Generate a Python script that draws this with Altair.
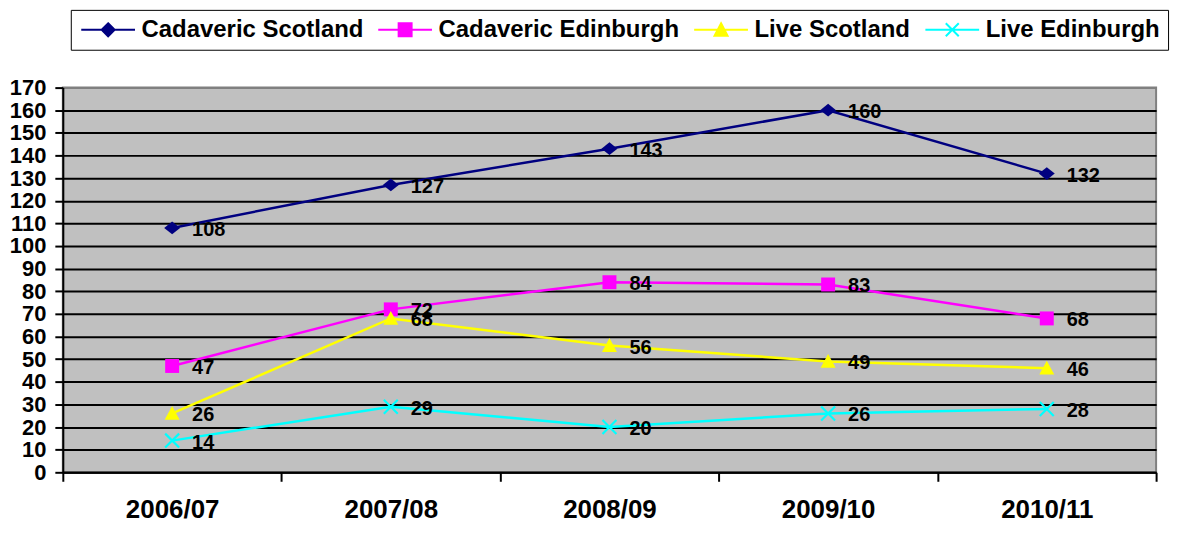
import altair as alt
import pandas as pd

periods = ["2006/07", "2007/08", "2008/09", "2009/10", "2010/11"]
series_names = ["Cadaveric Scotland", "Cadaveric Edinburgh", "Live Scotland", "Live Edinburgh"]
cadaveric_scotland = [108, 127, 143, 160, 132]
cadaveric_edinburgh = [47, 72, 84, 83, 68]
live_scotland = [26, 68, 56, 49, 46]
live_edinburgh = [14, 29, 20, 26, 28]
series_colors = ["#000080", "#FF00FF", "#FFFF00", "#00FFFF"]
y_ticks = list(range(0, 171, 10))

rows = []
for name, vals in zip(series_names, [cadaveric_scotland, cadaveric_edinburgh, live_scotland, live_edinburgh]):
    for p, v in zip(periods, vals):
        rows.append({"period": p, "series": name, "value": v})
df = pd.DataFrame(rows)

FONT = "Liberation Sans"

markers = [
    ("M0,-0.8L1,0L0,0.8L-1,0Z", True, 256),
    ("square", True, 196),
    ("M0,-1L1,0.85L-1,0.85Z", True, 225),
    ("M-1,-1L1,1M-1,1L1,-1", False, 196),
]
legend_paths = [
    "M-1,0L7.3,0M3.15,-1L4.15,0L3.15,1L2.15,0Z",
    "M-1,0L7.3,0M2.15,-1L4.15,-1L4.15,1L2.15,1Z",
    "M-1,0L7.3,0M3.15,-1L4.15,0.9L2.15,0.9Z",
    "M-1,0L7.3,0M2.15,-1L4.15,1M2.15,1L4.15,-1",
]

# colour scale for the drawn marks: domain taken from the data (sorted), so
# its range follows the sorted series order
color_lookup = dict(zip(series_names, series_colors))
color_scale = alt.Scale(range=[color_lookup[n] for n in sorted(series_names)])

x_enc = alt.X(
    "period:N",
    sort=periods,
    scale=alt.Scale(type="band", paddingInner=0, paddingOuter=0),
    axis=alt.Axis(
        title=None, labelAngle=0, labelFontSize=26, labelFontWeight="bold",
        labelColor="black", labelFont=FONT, labelPadding=15, tickBand="extent",
        tickSize=9, tickWidth=2, tickColor="black", domainColor="black",
        domainWidth=2, grid=False,
    ),
)
y_enc = alt.Y(
    "value:Q",
    scale=alt.Scale(domain=[0, 170], nice=False),
    axis=alt.Axis(
        title=None, values=y_ticks, labelFontSize=22, labelFontWeight="bold",
        labelColor="black", labelFont=FONT, labelPadding=9, tickSize=8,
        tickWidth=2, tickColor="black", domainColor="black", domainWidth=2,
        grid=True, gridWidth=2,
        gridColor={"condition": {"test": "datum.value >= 170", "value": "#808080"}, "value": "black"},
    ),
)

base = alt.Chart(df).encode(x=x_enc, y=y_enc)

lines = base.mark_line(strokeWidth=2.5).encode(
    color=alt.Color("series:N", scale=color_scale, legend=None)
)

point_layers = []
for name, (path, filled, size) in zip(series_names, markers):
    point_layers.append(
        base.transform_filter(alt.datum.series == name)
        .mark_point(shape=path, filled=filled, size=size, opacity=1, strokeWidth=2.2)
        .encode(color=alt.Color("series:N", scale=color_scale, legend=None))
    )

labels = base.mark_text(
    align="left", baseline="middle", dx=20, dy=2, fontSize=20,
    fontWeight="bold", color="black", font=FONT,
).encode(text="value:Q")

# legend-only layer: no rows drawn, legend comes from the explicit scale domains
legend_layer = base.transform_filter("datum.value < 0").mark_point(filled=True, size=169).encode(
    fill=alt.Fill("series:N", scale=alt.Scale(domain=series_names, range=series_colors),
                  legend=alt.Legend(title=None)),
    stroke=alt.Stroke("series:N", scale=alt.Scale(domain=series_names, range=series_colors),
                      legend=alt.Legend(title=None)),
    shape=alt.Shape("series:N", scale=alt.Scale(domain=series_names, range=legend_paths),
                    legend=alt.Legend(title=None)),
)

chart = (
    alt.layer(lines, *point_layers, labels, legend_layer)
    .properties(
        width=1097, height=386,
        autosize=alt.AutoSizeParams(type="none"),
        padding={"left": 55, "top": 79, "right": 30, "bottom": 53},
    )
    .configure(font=FONT)
    .configure_view(fill="#C0C0C0", stroke="#808080", strokeWidth=2)
    .configure_legend(
        orient="none", legendX=8, legendY=-78, direction="horizontal",
        labelFont=FONT, labelFontSize=24, labelFontWeight="bold", labelColor="black",
        labelLimit=0, symbolSize=169, symbolStrokeWidth=2, symbolOpacity=1,
        symbolOffset=-3, labelOffset=42, columnPadding=10, padding=8,
        strokeColor="black", fillColor="white",
    )
)

chart.save("out.html", embed_options={"renderer": "svg", "actions": False})
